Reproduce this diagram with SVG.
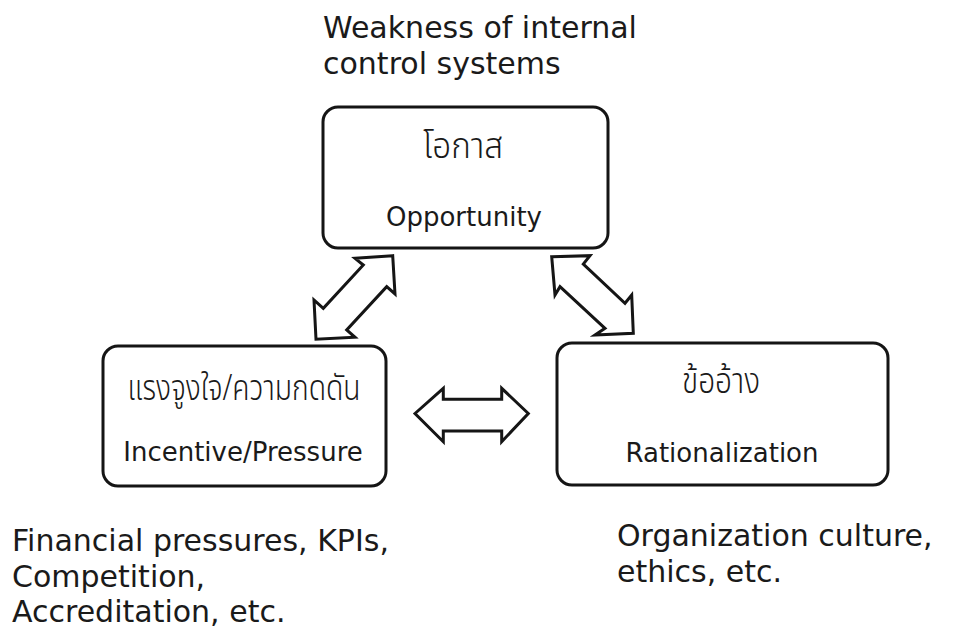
<svg xmlns="http://www.w3.org/2000/svg" width="954" height="632" viewBox="0 0 954 632">
  <style>
    .box { fill: #ffffff; stroke: #151515; stroke-width: 3; }
    .arrow { fill: #ffffff; stroke: #151515; stroke-width: 3; stroke-linejoin: miter; }
    .en { font-family: "DejaVu Sans", "Liberation Sans", sans-serif; fill: #1a1a1a; }
    .inner { font-size: 26px; text-anchor: middle; }
    .outer { font-size: 30px; }
    .th { font-family: "Noto Sans Thai", "Noto Sans Thai Looped", "Loma", "Garuda", "Noto Sans", sans-serif; font-size: 36px; font-weight: 300; fill: #1a1a1a; text-anchor: middle; }
  </style>
  <rect width="954" height="632" fill="#ffffff"/>

  <g id="label-opportunity-factors">
    <text class="en outer" x="323" y="38">Weakness of internal</text>
    <text class="en outer" x="323" y="74">control systems</text>
  </g>

  <g id="node-opportunity">
    <rect class="box" x="323" y="107" width="285" height="141" rx="15" ry="15"/>
    <text class="th" x="463" y="158" textLength="80" lengthAdjust="spacingAndGlyphs">โอกาส</text>
    <text class="en inner" x="464" y="226">Opportunity</text>
  </g>

  <g id="node-incentive">
    <rect class="box" x="103" y="346" width="283" height="140" rx="15" ry="15"/>
    <text class="th" x="244" y="400" textLength="233" lengthAdjust="spacingAndGlyphs">แรงจูงใจ/ความกดดัน</text>
    <text class="en inner" x="243" y="461">Incentive/Pressure</text>
  </g>

  <g id="node-rationalization">
    <rect class="box" x="557" y="343" width="331" height="142" rx="15" ry="15"/>
    <text class="th" x="721" y="393" textLength="78" lengthAdjust="spacingAndGlyphs">ข้ออ้าง</text>
    <text class="en inner" x="722" y="462">Rationalization</text>
  </g>

  <g id="connectors">
    <polygon class="arrow" points="392.7,255.7 355,258.3 363.3,265 323.3,308.3 314,300 316,339.3 355,337.3 346.7,330 386.7,286.7 395,294"/>
    <polygon class="arrow" points="551.7,256.7 590,255.7 583.3,264 625,303.3 631.7,295 633.3,333.3 595,335 605,328.3 560,286.7 555,295"/>
    <polygon class="arrow" points="415,413.5 443.3,388.3 443.3,399.3 501.7,399.3 501.7,388.3 528.3,413.5 501.7,441.7 501.7,431 443.3,431 443.3,441.7"/>
  </g>

  <g id="label-incentive-factors">
    <text class="en outer" x="12" y="551">Financial pressures, KPIs,</text>
    <text class="en outer" x="12" y="587">Competition,</text>
    <text class="en outer" x="12" y="622">Accreditation, etc.</text>
  </g>

  <g id="label-rationalization-factors">
    <text class="en outer" x="617" y="546">Organization culture,</text>
    <text class="en outer" x="617" y="582">ethics, etc.</text>
  </g>
</svg>
